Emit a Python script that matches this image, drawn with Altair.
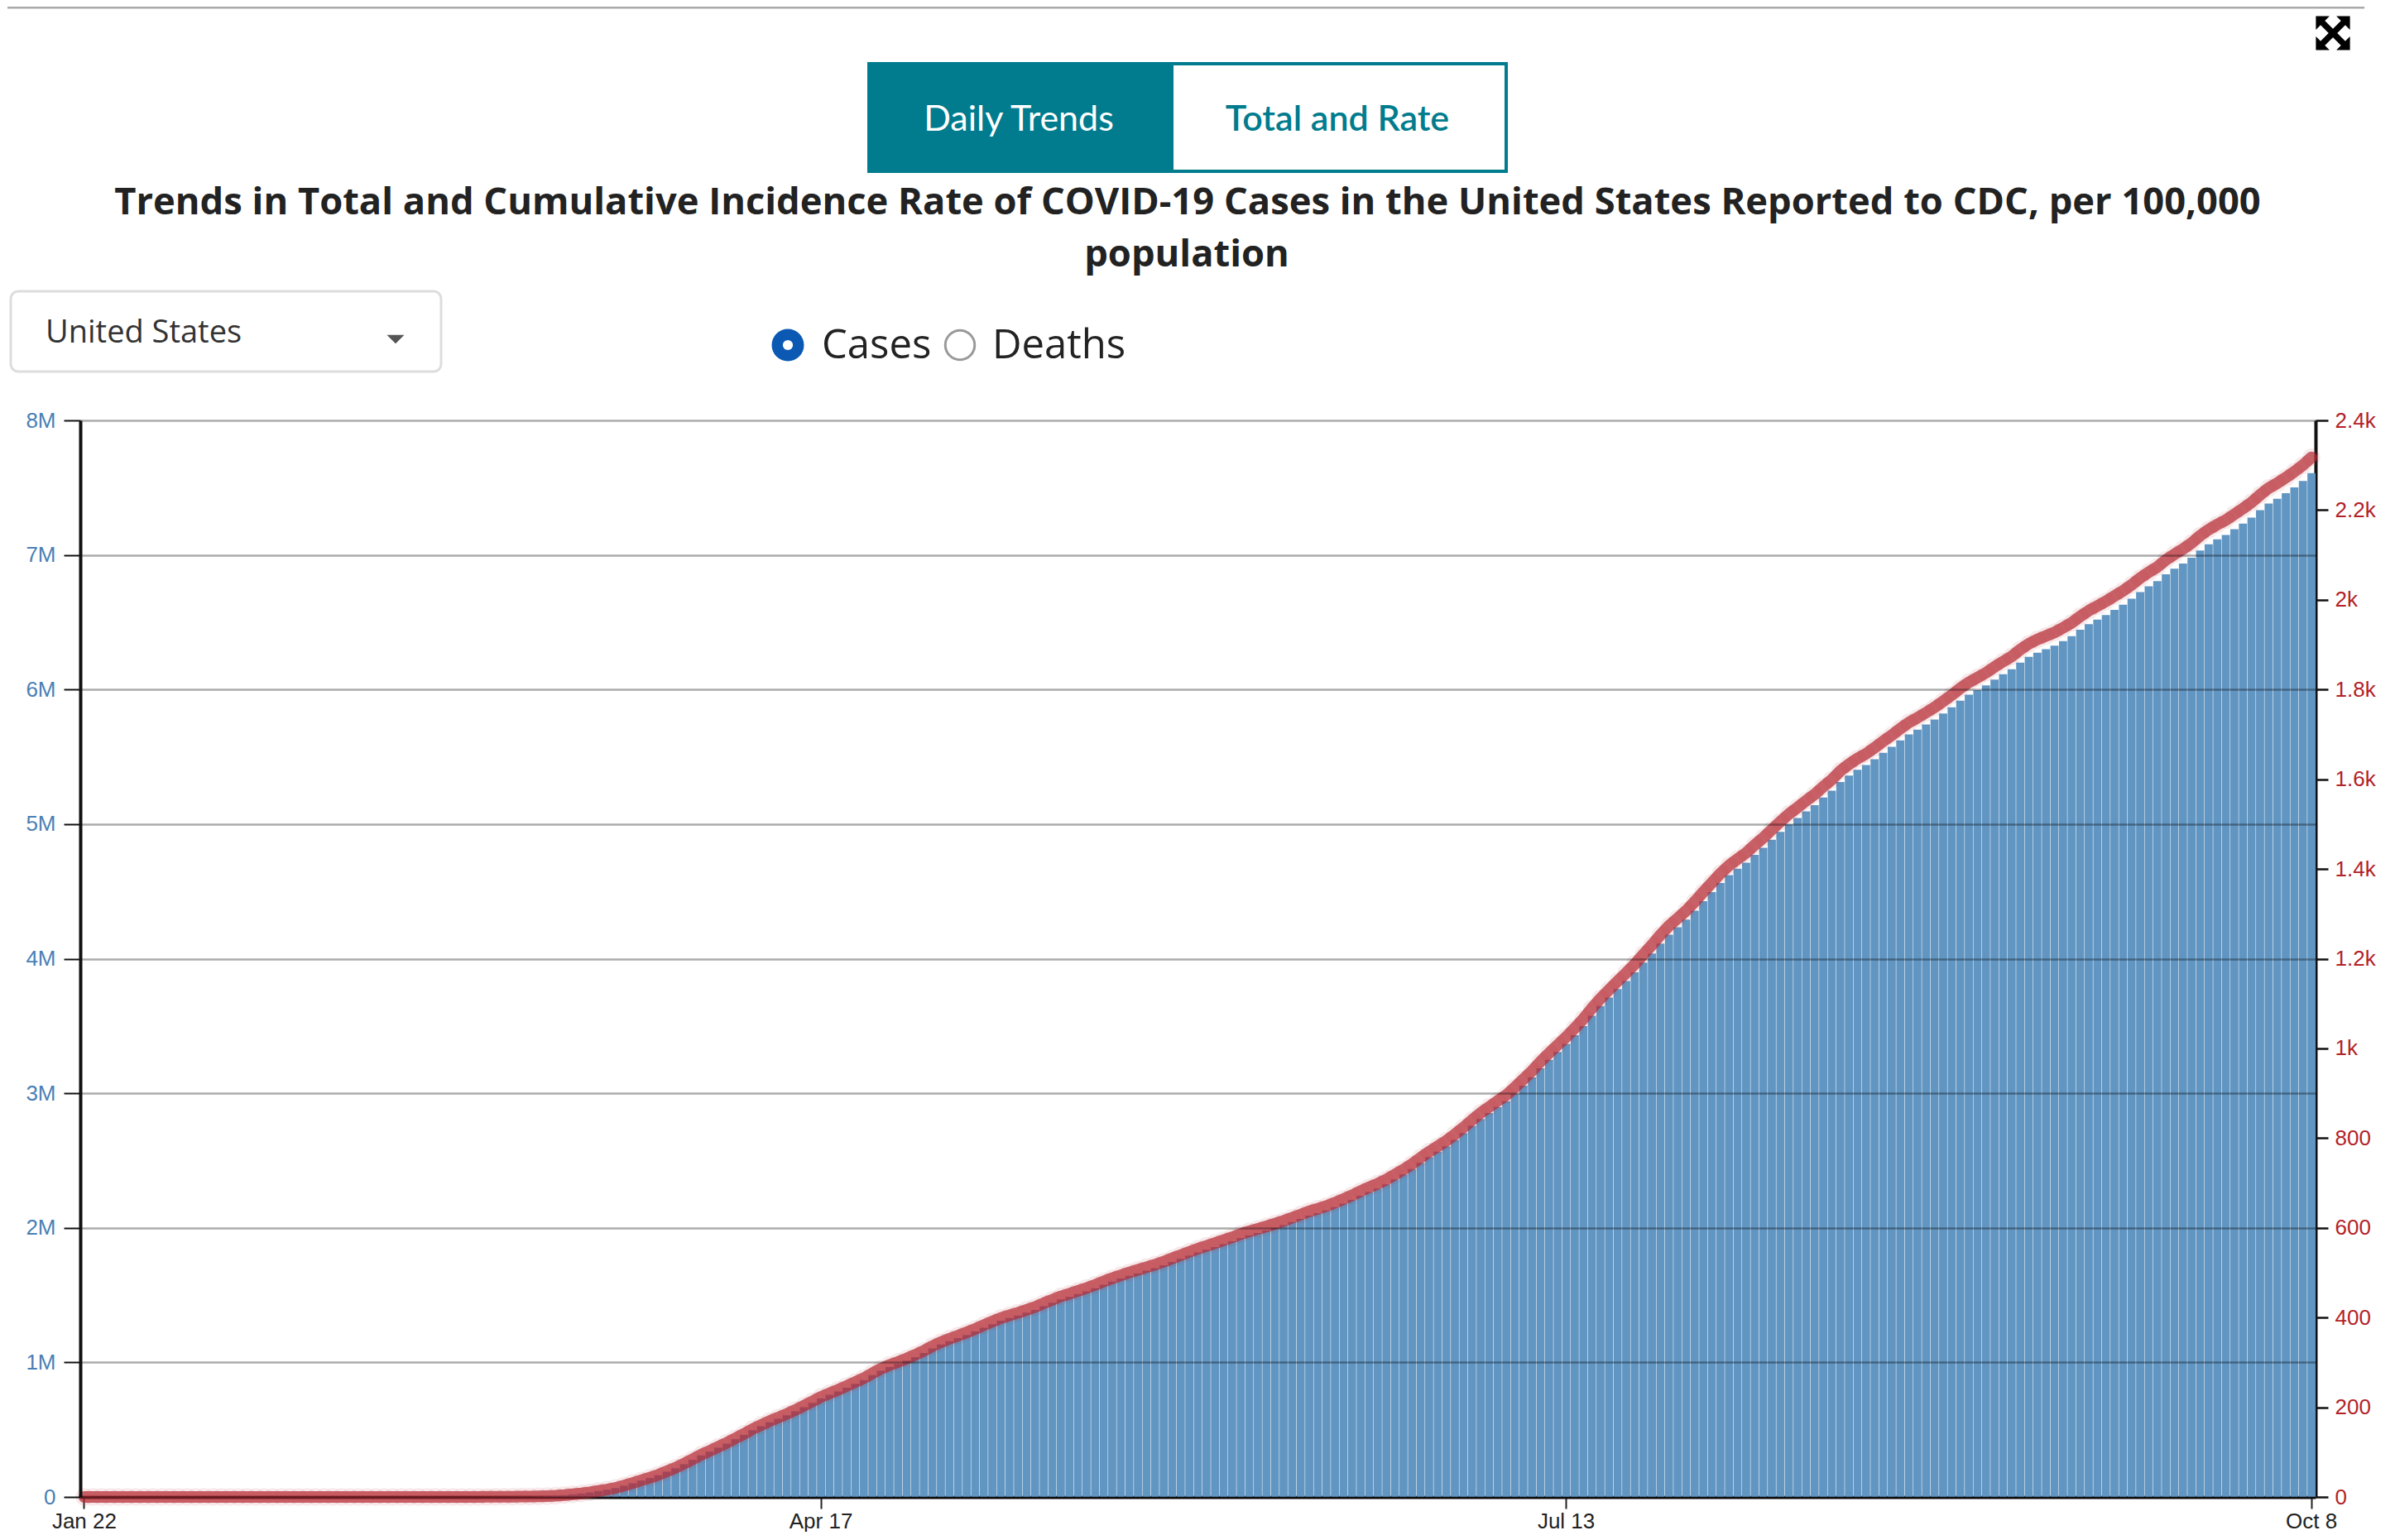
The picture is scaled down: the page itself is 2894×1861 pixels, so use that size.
import altair as alt
import pandas as pd

# ---- data (cumulative reported cases) ----
cases_jan = [1, 1, 2, 2, 5, 5, 5, 5, 6, 7]
cases_feb = [8, 8, 11, 11, 12, 12, 12, 12, 12, 12, 13, 13, 14, 14, 14, 14, 14, 14, 14, 14,
             16, 16, 16, 16, 16, 16, 17, 25, 32]
cases_mar = [55, 74, 107, 184, 237, 403, 519, 594, 782, 1147, 1586, 2219, 2978, 3212, 4679,
             6512, 9345, 13735, 19608, 25489, 33276, 43847, 53740, 65778, 83836, 101657,
             121478, 140886, 161807, 188172, 213372]
cases_apr = [243453, 275586, 308850, 337072, 366667, 396223, 429052, 461437, 496535, 526396,
             555313, 580619, 607670, 636350, 667801, 699706, 732197, 758809, 784326, 811865,
             840351, 869170, 905358, 938154, 965785, 988197, 1012582, 1039909, 1069424, 1103461]
cases_may = [1132539, 1158040, 1180375, 1204351, 1229331, 1257023, 1283929, 1309550, 1329260,
             1347881, 1369376, 1390406, 1417774, 1442824, 1467820, 1486757, 1508308, 1528568,
             1551853, 1577147, 1600937, 1622612, 1643246, 1662302, 1681212, 1699933, 1721753,
             1746019, 1770165, 1793530, 1816820]
cases_jun = [1837170, 1857511, 1878683, 1899932, 1923839, 1943932, 1961185, 1979850, 1999386,
             2020196, 2043294, 2066389, 2091025, 2109010, 2128962, 2153633, 2180002, 2207367,
             2238016, 2266268, 2292803, 2323068, 2359004, 2396016, 2436023, 2482584, 2526037,
             2565824, 2606166, 2653337]
cases_jul = [2704045, 2758053, 2809130, 2852925, 2898021, 2940719, 2996851, 3056734, 3116997,
             3185738, 3247782, 3307379, 3366331, 3430914, 3498902, 3576157, 3647715, 3711413,
             3773260, 3834677, 3899211, 3970121, 4038816, 4112531, 4178970, 4233923, 4290337,
             4356205, 4426982, 4495015, 4562038]
cases_aug = [4620592, 4668017, 4713540, 4771079, 4823890, 4883582, 4941755, 4998017, 5044864,
             5094565, 5141208, 5197411, 5248958, 5313055, 5361165, 5403213, 5438325, 5482416,
             5529789, 5573847, 5622540, 5667112, 5701679, 5739536, 5777710, 5821819, 5867785,
             5917440, 5961094, 5995920, 6031013]
cases_sep = [6073840, 6113160, 6150016, 6200186, 6243008, 6274113, 6299956, 6326185, 6360212,
             6396100, 6443652, 6485123, 6519573, 6553652, 6592342, 6630051, 6674411, 6723933,
             6766631, 6804814, 6856884, 6897839, 6936004, 6979766, 7033430, 7078798, 7115491,
             7148045, 7191061, 7233043]
cases_oct = [7277814, 7332200, 7382194, 7417845, 7458550, 7502421, 7549626, 7607381]

US_POPULATION = 328239523  # rate per 100,000 population

x_ticks = ["Jan 22", "Apr 17", "Jul 13", "Oct 8"]
left_ticks = [0, 1e6, 2e6, 3e6, 4e6, 5e6, 6e6, 7e6, 8e6]
right_ticks = [0, 200, 400, 600, 800, 1000, 1200, 1400, 1600, 1800, 2000, 2200, 2400]

title_lines = ["Trends in Total and Cumulative Incidence Rate of COVID-19 Cases in the United States Reported to CDC, per 100,000",
               "population"]

cases = (cases_jan + cases_feb + cases_mar + cases_apr + cases_may + cases_jun +
         cases_jul + cases_aug + cases_sep + cases_oct)
dates = pd.date_range("2020-01-22", periods=len(cases), freq="D")
labels = [f"{d.strftime('%b')} {d.day}" for d in dates]
df = pd.DataFrame({"label": labels, "cases": cases})
df["rate"] = df["cases"] / US_POPULATION * 100000

# ---- layout (plot area origin in page pixels) ----
OX, OY = 97, 508
W, H = 2701, 1301


def vx(px):
    return alt.value(px - OX)


def vy(py):
    return alt.value(py - OY)


one = pd.DataFrame({"k": [0]})

x_enc = alt.X("label:O", sort=None,
              scale=alt.Scale(paddingInner=0.05, paddingOuter=0),
              axis=alt.Axis(values=x_ticks, labelAngle=0, title=None,
                            labelFont="Liberation Sans", labelFontSize=26, labelColor="#222",
                            tickSize=14, tickWidth=2, tickColor="#222",
                            domainColor="#111", domainWidth=4, labelPadding=2, grid=False))

bars = alt.Chart(df).mark_bar(color="#6195c2").encode(
    x=x_enc,
    y=alt.Y("cases:Q", scale=alt.Scale(domain=[0, 8e6], nice=False),
            axis=alt.Axis(orient="left", values=left_ticks, title=None,
                          labelExpr="datum.value == 0 ? '0' : (datum.value / 1000000) + 'M'",
                          labelFont="Liberation Sans", labelFontSize=26, labelColor="#4a7fb5",
                          tickSize=20, tickWidth=2, tickColor="#111",
                          domainColor="#111", domainWidth=4, labelPadding=10,
                          grid=True, gridColor="#000", gridOpacity=0.33, gridWidth=2.5,
                          zindex=1)),
)

line = alt.Chart(df).mark_line(color="#b42832", opacity=0.72, strokeWidth=14,
                               strokeCap="round", strokeJoin="round").encode(
    x=x_enc,
    y=alt.Y("rate:Q", scale=alt.Scale(domain=[0, 2400], nice=False),
            axis=alt.Axis(orient="right", values=right_ticks, title=None,
                          labelExpr="datum.value >= 1000 ? (datum.value / 1000) + 'k' : datum.value + ''",
                          labelFont="Liberation Sans", labelFontSize=26, labelColor="#b22228",
                          tickSize=15, tickWidth=2.5, tickColor="#111",
                          domainColor="#111", domainWidth=4, labelPadding=8, grid=False)),
)

pts = alt.Chart(df).mark_circle(color="#c0404a", opacity=0.11, size=460).encode(
    x=x_enc,
    y=alt.Y("rate:Q", scale=alt.Scale(domain=[0, 2400], nice=False), axis=None),
)

# ---- page furniture ----
top_rule = alt.Chart(one).mark_rule(color="#aaaaaa", strokeWidth=3).encode(
    x=vx(9), x2=vx(2857), y=vy(9))

expand_path = ("M-1,-1 L-1,-0.2 L-0.2,-1 Z M1,-1 L0.2,-1 L1,-0.2 Z "
               "M1,1 L1,0.2 L0.2,1 Z M-1,1 L-0.2,1 L-1,0.2 Z "
               "M-0.75,-0.5 L0.5,0.75 L0.75,0.5 L-0.5,-0.75 Z "
               "M0.75,-0.5 L0.5,-0.75 L-0.75,0.5 L-0.5,0.75 Z")
expand_icon = alt.Chart(one).mark_point(shape=expand_path, filled=True, color="#000",
                                        opacity=1, size=1700).encode(x=vx(2819), y=vy(40))

btn_active = alt.Chart(one).mark_rect(color="#007c8e").encode(
    x=vx(1048), x2=vx(1416), y=vy(75), y2=vy(209))
btn_inactive = alt.Chart(one).mark_rect(fill="#ffffff", stroke="#007c8e", strokeWidth=4).encode(
    x=vx(1416), x2=vx(1820), y=vy(77), y2=vy(207))
btn_text1 = alt.Chart(one).mark_text(text="Daily Trends", font="Lato", fontSize=43,
                                     color="#ffffff", align="center", baseline="alphabetic").encode(
    x=vx(1231), y=vy(158))
btn_text2 = alt.Chart(one).mark_text(text="Total and Rate", font="Lato", fontSize=43,
                                     fontWeight=600, color="#007c8e", align="center",
                                     baseline="alphabetic").encode(x=vx(1616), y=vy(158))

title1 = alt.Chart(one).mark_text(text=title_lines[0], font="Open Sans", fontSize=45.3,
                                  fontWeight="bold", color="#222222", align="center",
                                  baseline="alphabetic").encode(x=vx(1435), y=vy(259))
title2 = alt.Chart(one).mark_text(text=title_lines[1], font="Open Sans", fontSize=45.3,
                                  fontWeight="bold", color="#222222", align="center",
                                  baseline="alphabetic").encode(x=vx(1434), y=vy(322))

dropdown = alt.Chart(one).mark_rect(fill="#ffffff", stroke="#dddddd", strokeWidth=3,
                                    cornerRadius=9).encode(
    x=vx(13), x2=vx(533), y=vy(352), y2=vy(449))
dropdown_text = alt.Chart(one).mark_text(text="United States", font="Open Sans", fontSize=38,
                                         color="#333333", align="left",
                                         baseline="alphabetic").encode(x=vx(55), y=vy(414))
caret = alt.Chart(one).mark_point(shape="M-1,-0.5 L1,-0.5 L0,0.5 Z", filled=True,
                                  color="#555555", opacity=1, size=441).encode(
    x=vx(478), y=vy(410))

radio_on = alt.Chart(one).mark_point(shape="circle", filled=True, color="#0b59b3",
                                     opacity=1, size=1520).encode(x=vx(952), y=vy(417))
radio_dot = alt.Chart(one).mark_point(shape="circle", filled=True, color="#ffffff",
                                      opacity=1, size=150).encode(x=vx(952), y=vy(417))
radio_off = alt.Chart(one).mark_point(shape="circle", filled=True, fill="#ffffff",
                                      stroke="#999999", strokeWidth=3, opacity=1,
                                      size=1260).encode(x=vx(1160), y=vy(417))
radio_t1 = alt.Chart(one).mark_text(text="Cases", font="Open Sans", fontSize=49,
                                    color="#222222", align="left",
                                    baseline="alphabetic").encode(x=vx(993), y=vy(433))
radio_t2 = alt.Chart(one).mark_text(text="Deaths", font="Open Sans", fontSize=49,
                                    color="#222222", align="left",
                                    baseline="alphabetic").encode(x=vx(1199), y=vy(433))

chart = alt.layer(
    bars, line, pts,
    top_rule, expand_icon, btn_active, btn_inactive, btn_text1, btn_text2,
    title1, title2, dropdown, dropdown_text, caret,
    radio_on, radio_dot, radio_off, radio_t1, radio_t2,
).resolve_scale(y="independent").properties(
    width=W, height=H,
    padding={"left": OX - 8, "top": OY - 8, "right": 86, "bottom": 42},
    autosize=alt.AutoSizeParams(type="none"),
    background="#ffffff",
).configure_view(strokeWidth=0)

chart.save("out.html", embed_options={"renderer": "svg", "actions": False})
